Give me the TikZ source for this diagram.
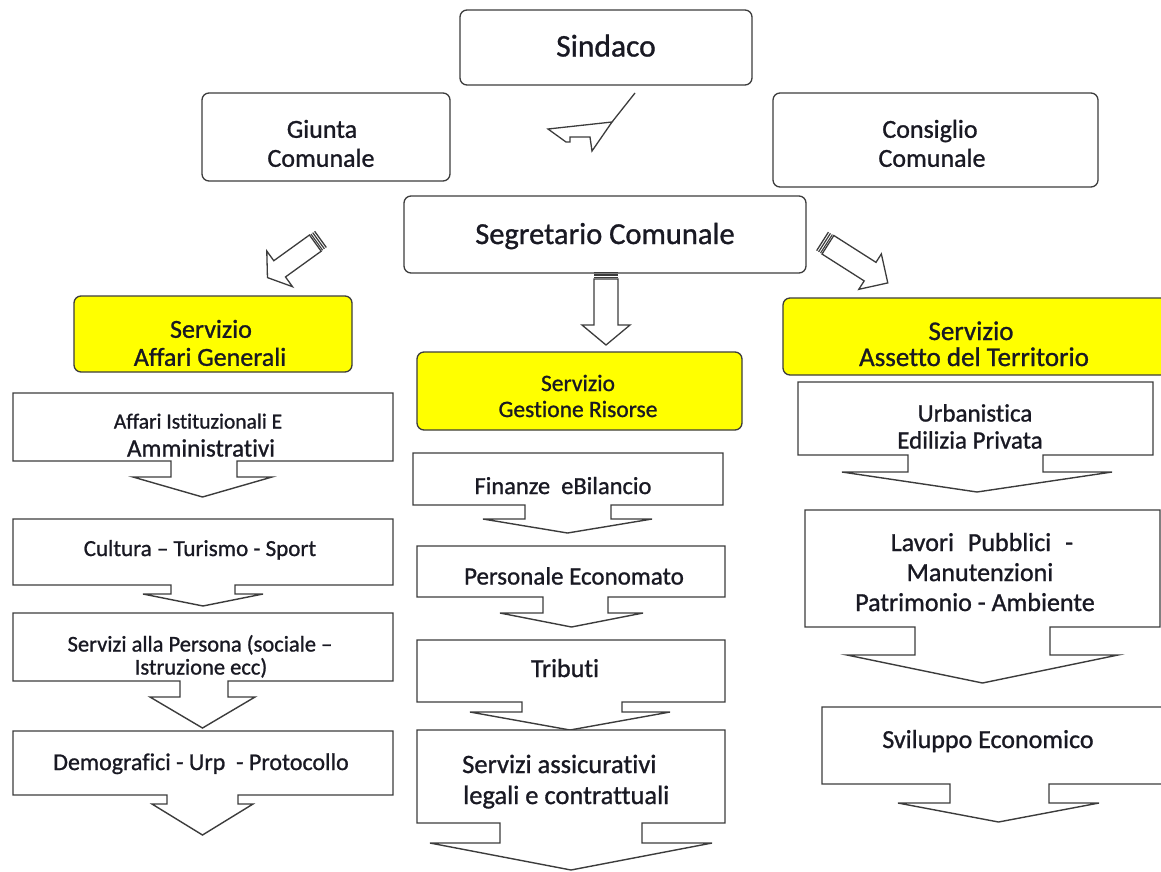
\documentclass[tikz,border=0pt]{standalone}
\usepackage{fontspec}
\setmainfont{Carlito}[Ligatures={NoCommon},FakeBold=1.0]
\definecolor{linec}{RGB}{60,60,60}
\definecolor{txtc}{RGB}{25,25,35}
\definecolor{ylw}{RGB}{255,255,0}
\newcommand{\setfs}[1]{\fontsize{#1}{#1}\selectfont}
\newcommand{\striparrow}[6]{%
  \begin{scope}[shift={#1}, rotate=#2]
    \fill[linec] (0,-#4) rectangle (1.3,#4);
    \fill[linec] (2.4,-#4) rectangle (3.6,#4);
    \fill[linec] (4.7,-#4) rectangle (5.8,#4);
    \draw[arrowline] (7,-#4) -- ({#3-#6},-#4) -- ({#3-#6},-#5) -- (#3,0) -- ({#3-#6},#5) -- ({#3-#6},#4) -- (7,#4) -- cycle;
  \end{scope}}
\tikzset{
  rbox/.style={draw=linec, line width=1.3pt, rounded corners=7pt, inner sep=0pt},
  ybox/.style={rbox, fill=ylw},
  callout/.style={draw=linec, line width=1.4pt, fill=white, line join=miter},
  arrowline/.style={draw=linec, line width=1.3pt, fill=white, line join=miter},
  txt/.style={text=txtc, inner sep=0pt, anchor=base},
  txtw/.style={text=txtc, inner sep=0pt, anchor=base west},
}
\begin{document}
\begin{tikzpicture}[x=1pt,y=-1pt]
\useasboundingbox (0,0) rectangle (1161,871);
\clip (0,0) rectangle (1161,871);

% top boxes
\node[rbox, minimum width=292pt, minimum height=75pt] (sindaco) at (606,47.5) {};
\node[rbox, minimum width=248pt, minimum height=88pt] (giunta) at (326,137) {};
\node[rbox, minimum width=325pt, minimum height=94pt] (consiglio) at (935.5,140) {};
\node[rbox, minimum width=402pt, minimum height=77pt] (segretario) at (605,234.5) {};

\node[txt] (tsindaco) at (606,56.5) {\setfs{31.5}Sindaco};
\node[txt] (tgiunta1) at (322,137.8) {\setfs{26}Giunta};
\node[txt] (tgiunta2) at (321,166.8) {\setfs{26}Comunale};
\node[txt] (tcons1) at (930,137.8) {\setfs{26}Consiglio};
\node[txt] (tcons2) at (932,166.8) {\setfs{26}Comunale};
\node[txt] (tsegr) at (605,244) {\setfs{30.5}Segretario Comunale};

% check-like arrow
\draw[arrowline, fill=none] (548,129) -- (566,142) -- (570,142) -- (570,137) -- (590,137) -- (592,151) -- (612,122) -- cycle;
\draw[arrowline] (612,122) -- (635,93);

% striped block arrows
\striparrow{(321,239)}{215.8}{66}{10}{22}{15}
\striparrow{(606,272)}{270}{73}{12}{24}{20}
\striparrow{(822,241)}{-32.5}{78}{11}{21}{21}

% yellow service boxes
\node[ybox, minimum width=278pt, minimum height=76pt] (ag) at (213,334) {};
\node[ybox, minimum width=325pt, minimum height=78pt] (gr) at (579.5,391) {};
\node[ybox, minimum width=390pt, minimum height=77pt] (at) at (978,336.5) {};

\node[txt] (tag1) at (211,337.8) {\setfs{26}Servizio};
\node[txt] (tag2) at (210,365.8) {\setfs{26}Affari Generali};
\node[txt] (tgr1) at (578,391) {\setfs{23.5}Servizio};
\node[txt] (tgr2) at (578,417) {\setfs{23.5}Gestione Risorse};
\node[txt] (tat1) at (971,340) {\setfs{27}Servizio};
\node[txt] (tat2) at (974,366) {\setfs{27}Assetto del Territorio};

% left column callouts
\draw[callout] (13,393) -- (393,393) -- (393,461) -- (237,461) -- (237,477) -- (272,477) -- (202.5,497) -- (133,477) -- (171,477) -- (171,461) -- (13,461) -- cycle;
\draw[callout] (13,519) -- (393,519) -- (393,585) -- (235,585) -- (235,594) -- (263,594) -- (203,606) -- (143,594) -- (171,594) -- (171,585) -- (13,585) -- cycle;
\draw[callout] (13,613) -- (393,613) -- (393,681) -- (228,681) -- (228,697) -- (255,697) -- (202.5,728) -- (150,697) -- (180,697) -- (180,681) -- (13,681) -- cycle;
\draw[callout] (13,731) -- (393,731) -- (393,795) -- (238,795) -- (238,804) -- (253,804) -- (202.5,835) -- (152,804) -- (167,804) -- (167,795) -- (13,795) -- cycle;

\node[txt] (tl1a) at (198,428.5) {\setfs{21.5}Affari Istituzionali E};
\node[txt] (tl1b) at (201,456.5) {\setfs{25}Amministrativi};
\node[txt] (tl2) at (200,556) {\setfs{23}Cultura – Turismo - Sport};
\node[txt] (tl3a) at (200,651.5) {\setfs{22.5}Servizi alla Persona (sociale –};
\node[txt] (tl3b) at (201,674.5) {\setfs{22.5}Istruzione ecc)};
\node[txt] (tl4) at (201,770) {\setfs{24}Demografici - Urp\ \ - Protocollo};

% middle column callouts
\draw[callout] (413,453) -- (723,453) -- (723,505) -- (611,505) -- (611,519) -- (652,519) -- (567.5,533) -- (483,519) -- (525,519) -- (525,505) -- (413,505) -- cycle;
\draw[callout] (417,546) -- (725,546) -- (725,597) -- (608,597) -- (608,613) -- (643,613) -- (571.5,627) -- (500,613) -- (543,613) -- (543,597) -- (417,597) -- cycle;
\draw[callout] (417,640) -- (725,640) -- (725,702) -- (622,702) -- (622,712) -- (670,712) -- (570,730) -- (470,712) -- (522,712) -- (522,702) -- (417,702) -- cycle;
\draw[callout] (417,730) -- (725,730) -- (725,823) -- (642,823) -- (642,843) -- (712,843) -- (571,870) -- (430,843) -- (500,843) -- (500,823) -- (417,823) -- cycle;

\node[txt] (tm1) at (563,494) {\setfs{24.5}Finanze\ \ eBilancio};
\node[txt] (tm2) at (574,584.5) {\setfs{25}Personale Economato};
\node[txt] (tm3) at (565,677) {\setfs{26}Tributi};
\node[txtw] (tm4a) at (462,773) {\setfs{26.5}Servizi assicurativi};
\node[txtw] (tm4b) at (463,804) {\setfs{26.5}legali e contrattuali};

% right column callouts
\draw[callout] (798,382) -- (1153,382) -- (1153,455) -- (1043,455) -- (1043,472) -- (1112,472) -- (977,492) -- (842,472) -- (908,472) -- (908,455) -- (798,455) -- cycle;
\draw[callout] (805,510) -- (1160,510) -- (1160,627) -- (1050,627) -- (1050,655) -- (1118,655) -- (982.5,683) -- (847,655) -- (915,655) -- (915,627) -- (805,627) -- cycle;
\draw[callout] (822,707) -- (1175,707) -- (1175,784) -- (1049,784) -- (1049,803) -- (1099,803) -- (998.5,822) -- (898,803) -- (950,803) -- (950,784) -- (822,784) -- cycle;

\node[txt] (tr1a) at (975,421.5) {\setfs{25}Urbanistica};
\node[txt] (tr1b) at (970,448.5) {\setfs{25}Edilizia Privata};
\node[txt] (tr2a) at (982,551) {\setfs{26}Lavori\hspace{14pt}Pubblici\hspace{14pt}-};
\node[txt] (tr2b) at (980,581) {\setfs{26}Manutenzioni};
\node[txt] (tr2c) at (975,611) {\setfs{26}Patrimonio - Ambiente};
\node[txt] (tr3) at (988,748) {\setfs{26}Sviluppo Economico};
\end{tikzpicture}
\end{document}
